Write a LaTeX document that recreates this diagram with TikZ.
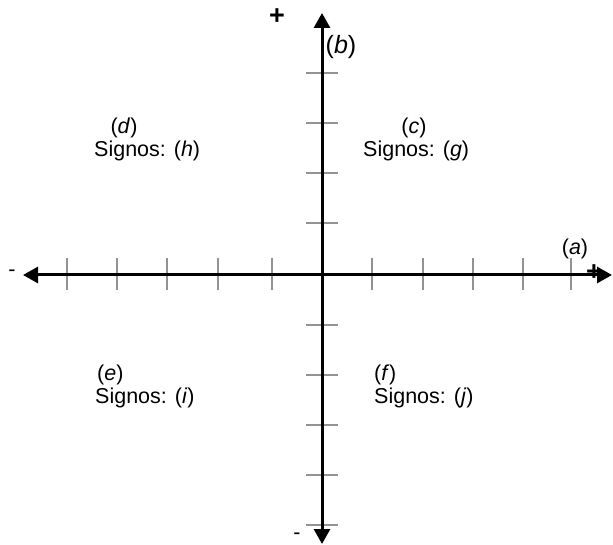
\documentclass[tikz,border=0pt]{standalone}
\usepackage{fontspec}
\setmainfont{Liberation Sans}
\usetikzlibrary{arrows.meta}
\tikzset{
  axisline/.style={line width=3pt,{Triangle[length=15pt,width=16pt]}-{Triangle[length=15pt,width=16pt]}},
  tickline/.style={draw=gray!85,line width=1.6pt},
  lbl/.style={inner sep=0pt,font=\fontsize{21.5}{24}\selectfont},
  signlbl/.style={inner sep=0pt,font=\fontsize{27}{30}\selectfont\bfseries},
  biglbl/.style={inner sep=0pt,font=\fontsize{25}{28}\selectfont},
}
\begin{document}
\begin{tikzpicture}[x=1pt,y=-1pt]
\useasboundingbox (0,0) rectangle (613,545);
% ticks on horizontal axis
\foreach \tx in {67,117,167,218,272,372,423,473,523,571}
  \draw[tickline] (\tx,258) -- (\tx,290);
% ticks on vertical axis
\foreach \ty in {73,123,173,223,325,375,425,475,525}
  \draw[tickline] (306,\ty) -- (338,\ty);
% axes
\coordinate (L) at (23,275);
\coordinate (R) at (612,275);
\coordinate (T) at (322,13);
\coordinate (B) at (322,544);
\draw[axisline] (L) -- (R);
\draw[axisline] (B) -- (T);
% axis end signs
\node[signlbl] (plusT) at (277,17) {+};
\node[lbl] (minusL) at (12,273) {-};
\node[signlbl] (plusR) at (594,273) {+};
\node[lbl] (minusB) at (297,536) {-};
\node[biglbl] (blab) at (341,47) {(\textit{b})};
\node[lbl] (alab) at (575,249) {(\textit{a})};
% quadrant texts
\node[lbl,anchor=base] (dlab) at (124,134) {(\textit{d})};
\node[lbl,anchor=base west] (hsig) at (94,157) {Signos: (\textit{h})};
\node[lbl,anchor=base] (clab) at (414,134) {(\textit{c})};
\node[lbl,anchor=base west] (gsig) at (363,157) {Signos: (\textit{g})};
\node[lbl,anchor=base west] (elab) at (97,380) {(\textit{e})};
\node[lbl,anchor=base west] (isig) at (95,403) {Signos: (\textit{i})};
\node[lbl,anchor=base west] (flab) at (374,380) {(\textit{f})};
\node[lbl,anchor=base west] (jsig) at (374,403) {Signos: (\textit{j})};
\end{tikzpicture}
\end{document}
